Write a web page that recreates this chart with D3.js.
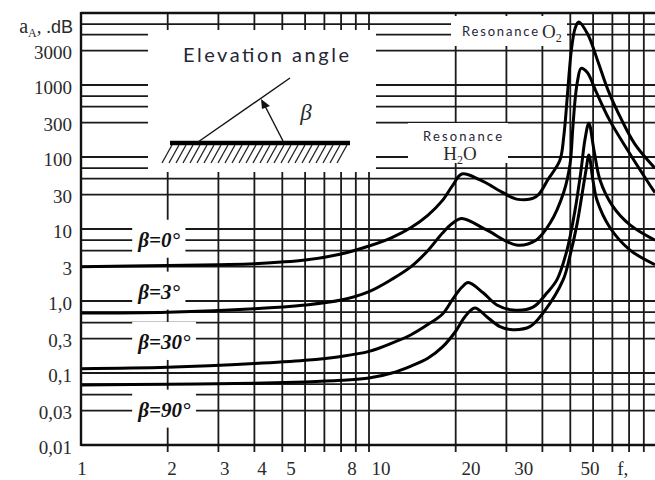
<!DOCTYPE html>
<html>
<head>
<meta charset="utf-8">
<script src="https://cdn.jsdelivr.net/npm/d3@7/dist/d3.min.js"></script>
<style>
  body { margin: 0; background: #fff; }
  svg { display: block; }
  .grid line { stroke: #1a1a1a; stroke-width: 1.8; }
  .frame line { stroke: #111; stroke-width: 2.4; }
  .curve { fill: none; stroke: #000; stroke-width: 3; stroke-linejoin: round; }
  .tick-label { font-family: "Liberation Serif", "DejaVu Serif", serif; font-size: 19px; fill: #2a2a2a; }
  .beta-label { font-family: "Liberation Serif", serif; font-size: 21px; font-style: italic; font-weight: bold; fill: #111; }
  .note { font-family: Lato, "Open Sans", sans-serif; fill: #262636; }
  .serif { font-family: "Liberation Serif", serif; fill: #2a2a2a; }
</style>
</head>
<body>
<div id="chart"></div>
<script>
// grid positions (frequency f and attenuation aA)
const freqGrid = [2, 3, 4, 5, 6, 7, 8, 9, 10, 20, 30, 40, 50, 60, 70, 80, 90];
const attGrid = [0.03, 0.05, 0.07, 0.1, 0.3, 0.5, 0.7, 1, 3, 5, 7, 10, 30, 50, 70, 100, 300, 500, 700, 1000, 3000, 5000, 7000];

// tick labels
const freqTicks = [1, 2, 3, 4, 5, 8, 10, 20, 30, 50];
const freqTickText = [`1`, `2`, `3`, `4`, `5`, `8`, `10`, `20`, `30`, `50`];
const attTicks = [3000, 1000, 300, 100, 30, 10, 3, 1, 0.3, 0.1, 0.03, 0.01];
const attTickText = [`3000`, `1000`, `300`, `100`, `30`, `10`, `3`, `1,0`, `0,3`, `0,1`, `0,03`, `0,01`];

// curves
const beta0F = [1, 2, 3, 4, 6, 8, 10, 12, 14, 16, 18, 19.5, 21, 24.3, 29.2, 32.5, 38, 42, 46, 47.5, 48.5, 49.5, 50.5, 52, 53.5, 57.6, 62.4, 67.6, 75.6, 83.9, 98.4];
const beta0A = [3.0, 3.1, 3.2, 3.3, 3.7, 4.5, 5.8, 7.6, 10.5, 15.5, 25, 40, 58, 48, 32, 26, 28, 50, 90, 200, 500, 1400, 3200, 6200, 7500, 5000, 2100, 850, 320, 150, 70];

const beta3F = [1, 2, 4, 6, 8, 10, 12, 14, 16, 18, 19.5, 21, 25.6, 32.5, 38, 42.5, 47.5, 49.9, 51, 52, 53, 54.5, 57.2, 61.5, 68.3, 79, 92, 98.4];
const beta3A = [0.68, 0.70, 0.78, 0.88, 1.03, 1.35, 2.0, 3.0, 5.0, 8.8, 12, 14, 9.7, 6.0, 7.0, 12, 33, 80, 250, 650, 1150, 1700, 1500, 800, 330, 125, 48, 32];

const beta30F = [1, 2, 4, 6, 8, 10, 12, 14, 16, 18, 19.5, 21, 22.1, 24.9, 27.8, 31.6, 37.1, 41.5, 45, 48.7, 51.9, 54.5, 56.2, 58, 60.4, 63.4, 69.8, 80.6, 98.4];
const beta30A = [0.115, 0.12, 0.135, 0.15, 0.17, 0.2, 0.26, 0.34, 0.47, 0.66, 1.05, 1.55, 1.8, 1.3, 0.88, 0.75, 0.82, 1.3, 2.0, 5.1, 18, 66, 174, 295, 125, 48, 21.5, 11.4, 7.0];

const beta90F = [1, 2, 4, 6, 8, 10, 12, 14, 16, 18, 20, 21.5, 23.3, 25.7, 28.5, 31.6, 36.2, 40.2, 47.2, 49.9, 52.7, 54.9, 56.7, 58, 59.9, 61.9, 68.7, 80.6, 98.4];
const beta90A = [0.068, 0.07, 0.072, 0.075, 0.079, 0.085, 0.1, 0.125, 0.16, 0.23, 0.38, 0.6, 0.8, 0.6, 0.44, 0.4, 0.44, 0.68, 1.96, 4.3, 11.4, 30, 66, 107, 48, 25, 10.4, 5.1, 3.2];

const betaNames = [`β=0°`, `β=3°`, `β=30°`, `β=90°`];
const betaLabelAt = [7.1, 1.35, 0.27, 0.031];

class Nomogram {
  constructor(el) {
    this.el = el;
    this.width = 655;
    this.height = 480;
    this.x = d3.scaleLog().domain([1, 100]).range([81, 657]);
    this.y = d3.scaleLog().domain([0.01, 10000]).range([445, 13]);
    // printed frequency numbers sit a little right of their lines
    this.xText = d3.scaleLog().domain([1, 100]).range([82, 680]);
  }

  render() {
    this.svg = d3.select(this.el).append(`svg`)
      .attr(`width`, this.width)
      .attr(`height`, this.height);
    this.gridLayer = this.svg.append(`g`).attr(`class`, `grid`);
    this.maskLayer = this.svg.append(`g`).attr(`fill`, `#fff`);
    this.curveLayer = this.svg.append(`g`);
    this.frameLayer = this.svg.append(`g`).attr(`class`, `frame`);
    this.textLayer = this.svg.append(`g`);

    this.drawGrid();
    this.drawAxes();
    this.drawInset();
    this.drawResonances();
    this.drawCurves();
  }

  drawGrid() {
    const x = this.x, y = this.y;
    this.gridLayer.selectAll(`line.v`)
        .data(freqGrid)
      .enter().append(`line`)
        .attr(`class`, `v`)
        .attr(`x1`, (d) => x(d)).attr(`x2`, (d) => x(d))
        .attr(`y1`, y(10000)).attr(`y2`, y(0.01) + 7);

    this.gridLayer.selectAll(`line.h`)
        .data(attGrid)
      .enter().append(`line`)
        .attr(`class`, `h`)
        .attr(`x1`, x(1)).attr(`x2`, this.width + 5)
        .attr(`y1`, (d) => y(d)).attr(`y2`, (d) => y(d));
  }

  drawAxes() {
    const x = this.x, y = this.y;
    this.frameLayer.append(`line`)
      .attr(`x1`, x(1)).attr(`x2`, x(1)).attr(`y1`, y(10000) - 1).attr(`y2`, y(0.01) + 1);
    this.frameLayer.append(`line`)
      .attr(`x1`, x(1)).attr(`x2`, this.width + 5).attr(`y1`, y(0.01)).attr(`y2`, y(0.01));
    this.frameLayer.append(`line`)
      .attr(`x1`, x(1)).attr(`x2`, this.width + 5).attr(`y1`, y(10000)).attr(`y2`, y(10000));

    this.textLayer.selectAll(`text.ylab`)
        .data(attTicks)
      .enter().append(`text`)
        .attr(`class`, `tick-label ylab`)
        .attr(`x`, 72)
        .attr(`y`, (d) => y(d) + 2)
        .attr(`text-anchor`, `end`)
        .attr(`dominant-baseline`, `central`)
        .text((d, i) => attTickText[i]);

    this.textLayer.selectAll(`text.xlab`)
        .data(freqTicks)
      .enter().append(`text`)
        .attr(`class`, `tick-label xlab`)
        .attr(`x`, (d) => this.xText(d))
        .attr(`y`, 475)
        .attr(`text-anchor`, `middle`)
        .attr(`font-size`, 18)
        .text((d, i) => freqTickText[i]);

    this.textLayer.append(`text`)
      .attr(`class`, `tick-label`)
      .attr(`x`, x(76))
      .attr(`y`, 475)
      .attr(`text-anchor`, `middle`)
      .attr(`font-size`, 18)
      .text(`f,`);

    const title = this.textLayer.append(`text`)
      .attr(`class`, `tick-label`)
      .attr(`x`, 73)
      .attr(`y`, 33)
      .attr(`text-anchor`, `end`);
    title.append(`tspan`).attr(`font-size`, 20).text(`a`);
    title.append(`tspan`).attr(`font-size`, 12).attr(`dy`, 4).text(`A`);
    title.append(`tspan`).attr(`dy`, -4).text(`, .`);
    title.append(`tspan`).attr(`font-family`, `"Liberation Sans", Arial, sans-serif`).attr(`font-size`, 18).text(`dB`);

    // beta labels with white boxes breaking the grid
    betaNames.forEach((name, i) => {
      const t = this.textLayer.append(`text`)
        .attr(`class`, `beta-label`)
        .attr(`x`, x(1.58))
        .attr(`y`, y(betaLabelAt[i]))
        .attr(`dominant-baseline`, `central`)
        .text(name);
      const b = t.node().getBBox();
      this.maskLayer.append(`rect`)
        .attr(`x`, b.x - 5).attr(`y`, b.y - 8)
        .attr(`width`, b.width + 10).attr(`height`, b.height + 14);
    });
  }

  drawInset() {
    const box = { x0: 148, y0: 30, x1: 376, y1: 172 };
    this.maskLayer.append(`rect`)
      .attr(`x`, box.x0).attr(`y`, box.y0)
      .attr(`width`, box.x1 - box.x0).attr(`height`, box.y1 - box.y0);

    const ins = this.textLayer.append(`g`);
    ins.append(`text`)
      .attr(`class`, `note`)
      .attr(`x`, 183).attr(`y`, 62)
      .attr(`font-size`, 20)
      .attr(`textLength`, 166)
      .attr(`lengthAdjust`, `spacing`)
      .text(`Elevation angle`);

    // ground and hatching
    ins.append(`line`)
      .attr(`x1`, 170).attr(`x2`, 350).attr(`y1`, 143).attr(`y2`, 143)
      .attr(`stroke`, `#000`).attr(`stroke-width`, 4.5);
    ins.append(`g`).selectAll(`line`)
        .data(d3.range(162, 342, 7))
      .enter().append(`line`)
        .attr(`x1`, (d) => d).attr(`y1`, 163)
        .attr(`x2`, (d) => d + 10).attr(`y2`, 145)
        .attr(`stroke`, `#222`).attr(`stroke-width`, 1.3);

    // ray and arrow
    ins.append(`line`)
      .attr(`x1`, 198).attr(`y1`, 142).attr(`x2`, 290).attr(`y2`, 78)
      .attr(`stroke`, `#111`).attr(`stroke-width`, 1.4);
    ins.append(`line`)
      .attr(`x1`, 283).attr(`y1`, 141).attr(`x2`, 265).attr(`y2`, 106)
      .attr(`stroke`, `#111`).attr(`stroke-width`, 1.4);
    ins.append(`path`)
      .attr(`d`, `M261,99 L270,106 L262,109 Z`)
      .attr(`fill`, `#111`);
    ins.append(`text`)
      .attr(`class`, `serif`)
      .attr(`x`, 306).attr(`y`, 120)
      .attr(`text-anchor`, `middle`)
      .attr(`font-size`, 23)
      .attr(`font-style`, `italic`)
      .text(`β`);
  }

  drawResonances() {
    // O2
    this.maskLayer.append(`rect`)
      .attr(`x`, 451).attr(`y`, 16).attr(`width`, 116).attr(`height`, 30);
    this.textLayer.append(`text`)
      .attr(`class`, `note`)
      .attr(`x`, 462).attr(`y`, 36)
      .attr(`font-size`, 13)
      .attr(`textLength`, 76)
      .attr(`lengthAdjust`, `spacing`)
      .text(`Resonance`);
    const o2 = this.textLayer.append(`text`)
      .attr(`class`, `serif`)
      .attr(`x`, 542).attr(`y`, 38)
      .attr(`font-size`, 19);
    o2.append(`tspan`).text(`O`);
    o2.append(`tspan`).attr(`font-size`, 12).attr(`dy`, 4).text(`2`);

    // H2O
    this.maskLayer.append(`rect`)
      .attr(`x`, 408).attr(`y`, 123).attr(`width`, 100).attr(`height`, 40);
    this.textLayer.append(`text`)
      .attr(`class`, `note`)
      .attr(`x`, 423).attr(`y`, 141)
      .attr(`font-size`, 13)
      .attr(`textLength`, 79)
      .attr(`lengthAdjust`, `spacing`)
      .text(`Resonance`);
    const h2o = this.textLayer.append(`text`)
      .attr(`class`, `serif`)
      .attr(`x`, 460).attr(`y`, 160)
      .attr(`text-anchor`, `middle`)
      .attr(`font-size`, 19);
    h2o.append(`tspan`).text(`H`);
    h2o.append(`tspan`).attr(`font-size`, 12).attr(`dy`, 4).text(`2`);
    h2o.append(`tspan`).attr(`dy`, -4).text(`O`);
  }

  drawCurves() {
    const line = d3.line()
      .x((d) => this.x(d[0]))
      .y((d) => this.y(d[1]))
      .curve(d3.curveCatmullRom.alpha(0.5));

    const series = [
      d3.zip(beta0F, beta0A),
      d3.zip(beta3F, beta3A),
      d3.zip(beta30F, beta30A),
      d3.zip(beta90F, beta90A)
    ];

    this.curveLayer.selectAll(`path`)
        .data(series)
      .enter().append(`path`)
        .attr(`class`, `curve`)
        .attr(`d`, line);
  }
}

new Nomogram(`#chart`).render();
</script>
</body>
</html>
